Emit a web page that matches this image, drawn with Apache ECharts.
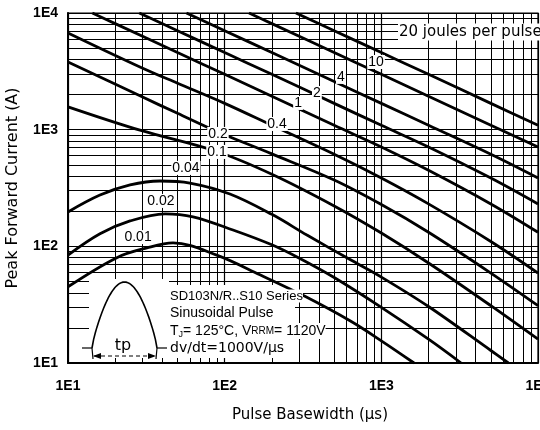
<!DOCTYPE html>
<html>
<head>
<meta charset="utf-8">
<script src="https://cdn.jsdelivr.net/npm/echarts@6/dist/echarts.min.js"></script>
<style>
  html, body { margin: 0; padding: 0; background: #fff; }
  #chart { width: 540px; height: 430px; }
</style>
</head>
<body>
<div id="chart"></div>
<script>
// Energy-per-pulse curves: [pulse basewidth (µs), peak forward current (A)]
const curve20J  = [[285,10000],[500,7050],[1000,4580],[2000,2980],[5000,1680],[10000,1090]];
const curve10J  = [[143,10000],[200,8110],[500,4580],[1000,2980],[2000,1930],[5000,1090],[10000,711]];
const curve4J   = [[57,10000],[100,7050],[200,4580],[500,2590],[1000,1680],[2000,1090],[5000,615],[10000,385]];
const curve2J   = [[28.5,10000],[50,7050],[100,4580],[200,2980],[500,1680],[1000,1090],[2000,711],[5000,385],[10000,231]];
const curve1J   = [[14.3,10000],[20,8110],[50,4580],[100,2980],[200,1930],[500,1090],[1000,711],[2000,449],[5000,231],[10000,132]];
const curve04J  = [[10,6750],[28.8,3450],[50,2500],[100,1680],[200,1090],[500,615],[1000,385],[2000,231],[5000,110],[10000,59]];
const curve02J  = [[10,3800],[28.8,1950],[50,1380],[90,960],[200,620],[500,370],[1000,228],[2000,132],[5000,59],[10000,31]];
const curve01J  = [[10,1570],[28.8,990],[89,650],[200,415],[500,222],[1000,130],[2000,72],[5000,31],[10000,16]];
const curve004J = [[10,197],[16,275],[24.9,336],[38.6,363],[60,349],[108,281],[200,188],[335,125],[631,77],[1000,54.5],[2000,30.5],[5000,12.8],[6470,10]];
const curve002J = [[10,84],[16,128],[24.9,165],[41.6,190],[62.8,179],[113,138],[200,103],[300,79],[500,54],[1000,30],[2000,16],[3230,10]];
const curve001J = [[10,45],[20.5,80],[31.9,97],[46.8,107],[89,84],[168,57],[316,38],[631,23],[1000,15.5],[1617,10]];

const energyNames = ['20', '10', '4', '2', '1', '0.4', '0.2', '0.1', '0.04', '0.02', '0.01'];
const energyCurves = [curve20J, curve10J, curve4J, curve2J, curve1J, curve04J, curve02J, curve01J, curve004J, curve002J, curve001J];

// Decade ticks and the 2..9 sub-decade grid values
const decades = [10, 100, 1000, 10000];
const subDecades = [2, 3, 4, 5, 6, 7, 8, 9];

const FONT = "'Liberation Sans', Arial, sans-serif";
const WIDE = "'DejaVu Sans', 'Liberation Sans', sans-serif";

// Where each curve's energy tag sits (pulse width, current)
const tagAnchor = {
  '10':   [925, 3802],
  '4':    [552, 2833],
  '2':    [388, 2062],
  '1':    [294, 1694],
  '0.4':  [216, 1119],
  '0.2':  [90.6, 919],
  '0.1':  [89.3, 644],
  '0.04': [56.6, 470],
  '0.02': [39.2, 245],
  '0.01': [28.0, 120]
};

const minorValues = [];
decades.slice(0, 3).forEach(d => subDecades.forEach(k => minorValues.push(d * k)));

const gridSeries = {
  type: 'line',
  data: [[10, 10]],
  showSymbol: false,
  lineStyle: { opacity: 0 },
  silent: true,
  z: 1,
  markLine: {
    silent: true,
    z: 1,
    symbol: ['none', 'none'],
    label: { show: false },
    animation: false,
    lineStyle: { color: '#000', width: 1, type: 'solid', opacity: 1 },
    emphasis: { disabled: true },
    data: minorValues.map(v => ({ xAxis: v })).concat(minorValues.map(v => ({ yAxis: v })))
  }
};

const curveSeries = energyCurves.map((pts, i) => {
  const name = energyNames[i];
  const s = {
    name: name + ' J',
    type: 'line',
    data: pts,
    showSymbol: false,
    smooth: 0.35,
    clip: true,
    z: 4,
    lineStyle: { color: '#000', width: 2.8 },
    emphasis: { disabled: true },
    animation: false
  };
  if (tagAnchor[name]) {
    s.markPoint = {
      z: 6,
      symbol: 'rect',
      symbolSize: 1,
      itemStyle: { color: 'rgba(0,0,0,0)' },
      animation: false,
      data: [{ coord: tagAnchor[name], value: name }],
      label: {
        show: true, position: 'inside', formatter: name,
        color: '#000', fontFamily: FONT, fontSize: 14,
        backgroundColor: '#fff', padding: [0, 1, 0, 1]
      }
    };
  }
  return s;
});

// Half-sine pulse sketch for the inset
const pulsePts = [];
for (let k = 0; k <= 40; k++) {
  const t = k / 40;
  pulsePts.push([92 + 65 * t, 348 - 66 * Math.pow(Math.sin(Math.PI * t), 0.8)]);
}

const insetText = (y, text, font) => ({
  type: 'text', z: 21, silent: true, x: 170, y: y,
  style: { text: text, font: font, fill: '#000', verticalAlign: 'middle', backgroundColor: '#fff' }
});

const chart = echarts.init(document.getElementById('chart'), null, { renderer: 'canvas' });
chart.setOption({
  backgroundColor: '#fff',
  animation: false,
  grid: { left: 68, right: 2, top: 13, bottom: 67, outerBoundsMode: 'none', containLabel: false,
          show: true, borderColor: '#000', borderWidth: 1.2, backgroundColor: '#fff' },
  xAxis: {
    type: 'log', logBase: 10, min: 10, max: 10000,
    name: 'Pulse Basewidth (µs)', nameLocation: 'middle', nameGap: 45,
    nameTextStyle: { fontFamily: WIDE, fontSize: 15, color: '#000', padding: [0, 0, 0, 14] },
    axisLine: { show: true, lineStyle: { color: '#000', width: 2 } },
    axisTick: { show: false },
    axisLabel: { formatter: v => '1E' + Math.round(Math.log10(v)), fontFamily: FONT, fontWeight: 'bold', fontSize: 14, color: '#000', margin: 16 },
    splitLine: { show: true, lineStyle: { color: '#000', width: 1.2 } },
    minorTick: { show: false }, minorSplitLine: { show: false }
  },
  yAxis: {
    type: 'log', logBase: 10, min: 10, max: 10000,
    name: 'Peak Forward Current (A)', nameLocation: 'middle', nameGap: 47, nameRotate: 90,
    nameTextStyle: { fontFamily: WIDE, fontSize: 16, color: '#000' },
    axisLine: { show: true, lineStyle: { color: '#000', width: 2 } },
    axisTick: { show: false },
    axisLabel: { formatter: v => '1E' + Math.round(Math.log10(v)), fontFamily: FONT, fontWeight: 'bold', fontSize: 14, color: '#000', margin: 10 },
    splitLine: { show: true, lineStyle: { color: '#000', width: 1.2 } },
    minorTick: { show: false }, minorSplitLine: { show: false }
  },
  series: [gridSeries].concat(curveSeries),
  graphic: {
    elements: [
      // blank panel behind the inset sketch and notes
      { type: 'rect', z: 3, silent: true, shape: { x: 89, y: 279, width: 80, height: 79 }, style: { fill: '#fff' } },
      { type: 'rect', z: 3, silent: true, shape: { x: 168, y: 285, width: 127, height: 73 }, style: { fill: '#fff' } },
      { type: 'polyline', z: 20, silent: true, shape: { points: pulsePts }, style: { stroke: '#000', lineWidth: 1.6, fill: null } },
      { type: 'line', z: 20, silent: true, shape: { x1: 82, y1: 348, x2: 92, y2: 348 }, style: { stroke: '#000', lineWidth: 1.2 } },
      { type: 'line', z: 20, silent: true, shape: { x1: 157, y1: 348, x2: 167, y2: 348 }, style: { stroke: '#000', lineWidth: 1.2 } },
      { type: 'line', z: 20, silent: true, shape: { x1: 92, y1: 348, x2: 93, y2: 359 }, style: { stroke: '#000', lineWidth: 1.2 } },
      { type: 'line', z: 20, silent: true, shape: { x1: 157, y1: 348, x2: 156, y2: 359 }, style: { stroke: '#000', lineWidth: 1.2 } },
      { type: 'line', z: 20, silent: true, shape: { x1: 94, y1: 356, x2: 155, y2: 356 }, style: { stroke: '#000', lineWidth: 1.2, lineDash: [4, 3] } },
      { type: 'polygon', z: 20, silent: true, shape: { points: [[93, 356], [101, 353], [101, 359]] }, style: { fill: '#000' } },
      { type: 'polygon', z: 20, silent: true, shape: { points: [[156, 356], [148, 353], [148, 359]] }, style: { fill: '#000' } },
      { type: 'text', z: 21, silent: true, x: 123, y: 346, style: { text: 'tp', font: '16px ' + WIDE, fill: '#000', align: 'center', verticalAlign: 'middle', backgroundColor: '#fff', padding: [0, 2] } },
      insetText(296, 'SD103N/R..S10 Series', '13px ' + FONT),
      insetText(313, 'Sinusoidal Pulse', '14px ' + FONT),
      {
        type: 'text', z: 21, silent: true, x: 170, y: 331,
        style: {
          text: 'T{sub|J}= 125°C, V{sc|RRM}= 1120V', font: '14px ' + FONT, fill: '#000', verticalAlign: 'middle', backgroundColor: '#fff',
          rich: { sub: { fontSize: 9, fontFamily: FONT, padding: [7, 0, 0, 0] }, sc: { fontSize: 10, fontFamily: FONT } }
        }
      },
      insetText(348, 'dv/dt=1000V/µs', '14px ' + WIDE),
      { type: 'text', z: 21, silent: true, x: 398, y: 32, style: { text: '20 joules per pulse', font: '15px ' + WIDE, fill: '#000', verticalAlign: 'middle', backgroundColor: '#fff', padding: [1, 2, 1, 1] } }
    ]
  }
});
</script>
</body>
</html>
